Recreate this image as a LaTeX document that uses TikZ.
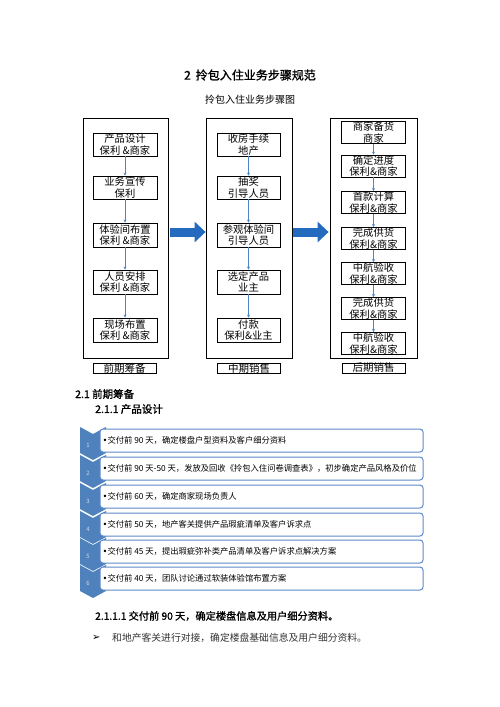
\documentclass[tikz,border=0pt]{standalone}
\usepackage{fontspec}
\usepackage{xcolor}
\usepackage{tikz}
\usetikzlibrary{arrows.meta}
\newfontfamily\cjk{Noto Sans CJK SC}
\newfontfamily\cjkbf[FakeBold=1.2]{Noto Sans CJK SC}
\newfontfamily\symfont{DejaVu Sans}
\newcommand{\dotmark}{{\symfont •}}
\definecolor{bigblue}{RGB}{36,106,190}
\definecolor{flowblue}{RGB}{74,134,200}
\definecolor{chevblue}{RGB}{79,129,189}
\definecolor{itemline}{RGB}{95,138,200}
\definecolor{chevnum}{RGB}{205,218,236}
\tikzset{
  stepbox/.style={draw, line width=0.9pt, fill=white, minimum width=64pt, minimum height=23pt,
    inner sep=0pt, align=center, font=\cjk\fontsize{10.3}{11.3}\selectfont},
  phasebox/.style={draw, line width=0.8pt, minimum height=240pt, inner sep=0pt},
  phaselabel/.style={draw, line width=0.9pt, minimum width=63pt, minimum height=10pt,
    inner sep=0pt, font=\cjk\fontsize{10.5}{10.5}\selectfont},
  flow/.style={draw=flowblue, line width=0.6pt, -{Stealth[length=3pt,width=3pt]}},
  bigarrow/.style={draw=bigblue, line width=9pt, -{Triangle[length=11pt,width=20pt]}},
  itembox/.style={draw=itemline, line width=1pt, fill=white, rounded corners=3pt,
    minimum width=323pt, minimum height=23pt, inner sep=0pt},
  itemtext/.style={anchor=west, inner sep=0pt, font=\cjk\fontsize{8.3}{8.3}\selectfont},
  chevron/.style={fill=chevblue},
  chevlbl/.style={text=chevnum, inner sep=0pt, font=\cjk\fontsize{6}{6}\selectfont}
}
\begin{document}
\begin{tikzpicture}[x=1pt,y=-1pt]
  \useasboundingbox (0,0) rectangle (500,707);

  % Headings
  \node[font=\cjkbf\fontsize{12}{12}\selectfont] (title) at (250,75) {2\hspace{5pt}拎包入住业务步骤规范};
  \node[font=\cjk\fontsize{10}{10}\selectfont] (subtitle) at (250,100) {拎包入住业务步骤图};

  % Phase frames
  \node[phasebox, minimum width=85pt] (early) at (125.5,238) {};
  \node[phasebox, minimum width=86pt] (mid) at (249,238) {};
  \node[phasebox, minimum width=87pt] (late) at (373.5,238) {};
  \node[phaselabel] (earlylbl) at (124.5,368.5) {前期筹备};
  \node[phaselabel] (midlbl) at (249,368.5) {中期销售};
  \node[phaselabel] (latelbl) at (373.5,368) {后期销售};

  % Early steps
  \node[stepbox] (design) at (125,144.5) {产品设计\\保利 \&商家};
  \node[stepbox] (promo) at (125,187.5) {业务宣传\\保利};
  \node[stepbox, minimum height=24pt] (showroom) at (125,235) {体验间布置\\保利 \&商家};
  \node[stepbox, minimum height=24pt] (staffing) at (125,282) {人员安排\\保利 \&商家};
  \node[stepbox, minimum height=24pt] (onsite) at (125,330) {现场布置\\保利 \&商家};
  \draw[flow] (design) -- (promo);
  \draw[flow] (promo) -- (showroom);
  \draw[flow] (showroom) -- (staffing);
  \draw[flow] (staffing) -- (onsite);

  % Middle steps
  \node[stepbox, minimum width=63pt] (handover) at (248.5,144.5) {收房手续\\地产};
  \node[stepbox, minimum width=63pt] (lottery) at (248.5,187.5) {抽奖\\引导人员};
  \node[stepbox, minimum width=63pt, minimum height=24pt] (visit) at (248.5,235) {参观体验间\\引导人员};
  \node[stepbox, minimum width=63pt, minimum height=24pt] (choose) at (248.5,282) {选定产品\\业主};
  \node[stepbox, minimum width=63pt, minimum height=24pt] (pay) at (248.5,330) {付款\\保利\&业主};
  \draw[flow] (handover) -- (lottery);
  \draw[flow] (lottery) -- (visit);
  \draw[flow] (visit) -- (choose);
  \draw[flow] (choose) -- (pay);

  % Late steps
  \node[stepbox, minimum height=22pt] (stock) at (373.5,132.5) {商家备货\\商家};
  \node[stepbox, minimum height=22pt] (schedule) at (373.5,166) {确定进度\\保利\&商家};
  \node[stepbox, minimum height=22pt] (firstpay) at (373.5,202.5) {首款计算\\保利\&商家};
  \node[stepbox, minimum height=22pt] (supplyA) at (373.5,238.5) {完成供货\\保利\&商家};
  \node[stepbox, minimum height=22pt] (checkA) at (373.5,273.5) {中航验收\\保利\&商家};
  \node[stepbox, minimum height=22pt] (supplyB) at (373.5,308.5) {完成供货\\保利\&商家};
  \node[stepbox, minimum height=22pt] (checkB) at (373.5,343.5) {中航验收\\保利\&商家};
  \draw[flow] (stock) -- (schedule);
  \draw[flow] (schedule) -- (firstpay);
  \draw[flow] (firstpay) -- (supplyA);
  \draw[flow] (supplyA) -- (checkA);
  \draw[flow] (checkA) -- (supplyB);
  \draw[flow] (supplyB) -- (checkB);

  % Phase arrows
  \draw[bigarrow, shorten <=2pt] ([yshift=6pt]early.east) -- ([yshift=6pt]mid.west);
  \draw[bigarrow, shorten <=1pt, shorten >=1pt] ([yshift=6pt]mid.east) -- ([yshift=6pt]late.west);

  % Section headings
  \node[anchor=west, inner sep=0pt, font=\cjkbf\fontsize{10.5}{10.5}\selectfont] (sec) at (75,394) {2.1 前期筹备};
  \node[anchor=west, inner sep=0pt, font=\cjkbf\fontsize{10.5}{10.5}\selectfont] (subsec) at (95,409) {2.1.1 产品设计};

  % Chevrons
  \fill[chevron] (80,427) -- (93,434) -- (106,427) -- (106,453) -- (93,460) -- (80,453) -- cycle;
  \fill[chevron] (80,455) -- (93,462) -- (106,455) -- (106,481) -- (93,488) -- (80,481) -- cycle;
  \fill[chevron] (80,483) -- (93,490) -- (106,483) -- (106,509) -- (93,516) -- (80,509) -- cycle;
  \fill[chevron] (80,511) -- (93,518) -- (106,511) -- (106,537) -- (93,544) -- (80,537) -- cycle;
  \fill[chevron] (80,538) -- (93,545) -- (106,538) -- (106,564) -- (93,571) -- (80,564) -- cycle;
  \fill[chevron] (80,565) -- (93,572) -- (106,565) -- (106,591) -- (93,598) -- (80,591) -- cycle;
  \node[chevlbl] (num1) at (88,445) {1};
  \node[chevlbl] (num2) at (88,473) {2};
  \node[chevlbl] (num3) at (88,501) {3};
  \node[chevlbl] (num4) at (88,529) {4};
  \node[chevlbl] (num5) at (88,556) {5};
  \node[chevlbl] (num6) at (88,583) {6};

  % Item boxes
  \node[itembox] (item1) at (261.5,440.5) {};
  \node[itembox] (item2) at (261.5,468.5) {};
  \node[itembox] (item3) at (261.5,496.5) {};
  \node[itembox] (item4) at (261.5,524.5) {};
  \node[itembox] (item5) at (261.5,551.5) {};
  \node[itembox] (item6) at (261.5,578.5) {};
  \node[itemtext] (text1) at ([xshift=3pt]item1.west) {\dotmark 交付前 90 天，确定楼盘户型资料及客户细分资料};
  \node[itemtext] (text2) at ([xshift=3pt]item2.west) {\dotmark 交付前 90 天-50 天，发放及回收《拎包入住问卷调查表》，初步确定产品风格及价位};
  \node[itemtext] (text3) at ([xshift=3pt]item3.west) {\dotmark 交付前 60 天，确定商家现场负责人};
  \node[itemtext] (text4) at ([xshift=3pt]item4.west) {\dotmark 交付前 50 天，地产客关提供产品瑕疵清单及客户诉求点};
  \node[itemtext] (text5) at ([xshift=3pt]item5.west) {\dotmark 交付前 45 天，提出瑕疵弥补类产品清单及客户诉求点解决方案};
  \node[itemtext] (text6) at ([xshift=3pt]item6.west) {\dotmark 交付前 40 天，团队讨论通过软装体验馆布置方案};

  % Body text
  \node[anchor=west, inner sep=0pt, font=\cjkbf\fontsize{10.2}{10.2}\selectfont] (subsubsec) at (95,616) {2.1.1.1 交付前 90 天，确定楼盘信息及用户细分资料。};
  \node[anchor=west, inner sep=0pt, font=\symfont\fontsize{10}{10}\selectfont] (bullet) at (92,638) {➢};
  \node[anchor=west, inner sep=0pt, text=black!80, font=\cjk\fontsize{9.8}{9.8}\selectfont] (para) at (112,638) {和地产客关进行对接，确定楼盘基础信息及用户细分资料。};
\end{tikzpicture}
\end{document}
